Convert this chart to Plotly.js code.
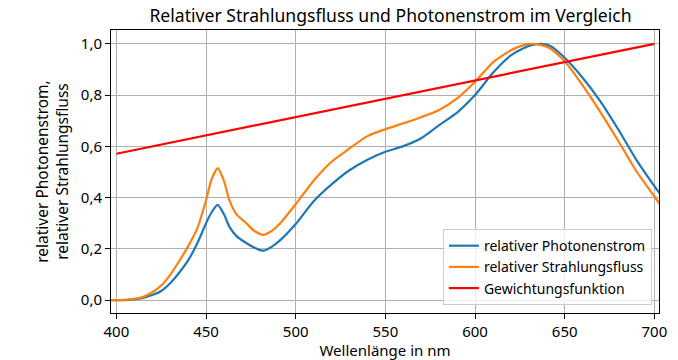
<!DOCTYPE html>
<html>
<head>
<meta charset="utf-8">
<script src="https://cdn.plot.ly/plotly-3.0.1.min.js"></script>
<style>html,body{margin:0;padding:0;background:#fff}#chart{width:678px;height:360px}</style>
</head>
<body>
<div id="chart"></div>
<script>
const wavelength = [395,400,405,410,415,420,425,430,435,440,445,450,453,456.5,460,463,467,472,477,482,487,492,500,510,520,530,540,550,560,570,580,590,600,610,620,627,632,637,642,650,660,670,680,690,700,705];
const photonFlux = [0,0,0.0005,0.003,0.009,0.02,0.036,0.066,0.107,0.155,0.22,0.30,0.342,0.372,0.335,0.287,0.25,0.225,0.205,0.193,0.21,0.238,0.297,0.386,0.452,0.507,0.548,0.579,0.601,0.632,0.683,0.732,0.80,0.887,0.955,0.983,0.996,1.0,0.992,0.946,0.868,0.775,0.665,0.547,0.445,0.398];
const radiantFlux = [0,0,0.001,0.005,0.013,0.031,0.057,0.099,0.152,0.21,0.278,0.39,0.47,0.515,0.465,0.39,0.335,0.303,0.27,0.255,0.272,0.305,0.375,0.466,0.54,0.592,0.64,0.667,0.69,0.714,0.742,0.787,0.852,0.928,0.975,0.995,1.0,0.995,0.982,0.932,0.838,0.733,0.62,0.503,0.405,0.355];
const weightX = [400, 700];
const weightY = [0.5714, 1.0];
const seriesNames = ["relativer Photonenstrom", "relativer Strahlungsfluss", "Gewichtungsfunktion"];
const xTicks = [400,450,500,550,600,650,700];
const yTicks = [0,0.2,0.4,0.6,0.8,1.0];

const FONT = "Noto Sans, Liberation Sans, sans-serif";
const traces = [
  {x: wavelength, y: photonFlux, name: seriesNames[0], mode: "lines", line: {color: "#1f77b4", width: 2.2, shape: "spline", smoothing: 0.6}},
  {x: wavelength, y: radiantFlux, name: seriesNames[1], mode: "lines", line: {color: "#ff7f0e", width: 2.2, shape: "spline", smoothing: 0.6}},
  {x: weightX, y: weightY, name: seriesNames[2], mode: "lines", line: {color: "#ff0000", width: 2.2}}
];
const layout = {
  width: 678, height: 360,
  margin: {l: 111, r: 19, t: 30, b: 47, pad: 0},
  paper_bgcolor: "#fff", plot_bgcolor: "#fff",
  separators: ",.",
  font: {family: FONT, size: 15, color: "#000"},
  title: {text: "Relativer Strahlungsfluss und Photonenstrom im Vergleich", font: {family: FONT, size: 17.6, color: "#000"}, x: 0.576, xanchor: "center", y: 0.972, yanchor: "top"},
  xaxis: {
    range: [397, 702.6], tickvals: xTicks, ticktext: xTicks.map(String),
    showgrid: true, gridcolor: "#b0b0b0", gridwidth: 1,
    showline: true, mirror: true, linecolor: "#000", linewidth: 1,
    ticks: "outside", ticklen: 5, tickcolor: "#000", zeroline: false,
    tickfont: {family: FONT, size: 15},
    title: {text: "Wellenlänge in nm", font: {family: FONT, size: 15}, standoff: 9},
    automargin: false
  },
  yaxis: {
    range: [-0.05, 1.054], tickvals: yTicks, tickformat: ".1f",
    showgrid: true, gridcolor: "#b0b0b0", gridwidth: 1,
    showline: true, mirror: true, linecolor: "#000", linewidth: 1,
    ticks: "outside", ticklen: 5, tickcolor: "#000", zeroline: false,
    tickfont: {family: FONT, size: 15},
    title: {text: "relativer Photonenstrom,<br>relativer Strahlungsfluss", font: {family: FONT, size: 15.5}, standoff: 8},
    automargin: false
  },
  showlegend: true,
  legend: {x: 0.987, xanchor: "right", y: 0.028, yanchor: "bottom", bgcolor: "rgba(255,255,255,0.8)", bordercolor: "#cccccc", borderwidth: 1, font: {family: FONT, size: 14}, tracegroupgap: 0, itemwidth: 30}
};
Plotly.newPlot("chart", traces, layout, {displayModeBar: false, staticPlot: true});
</script>
</body>
</html>
